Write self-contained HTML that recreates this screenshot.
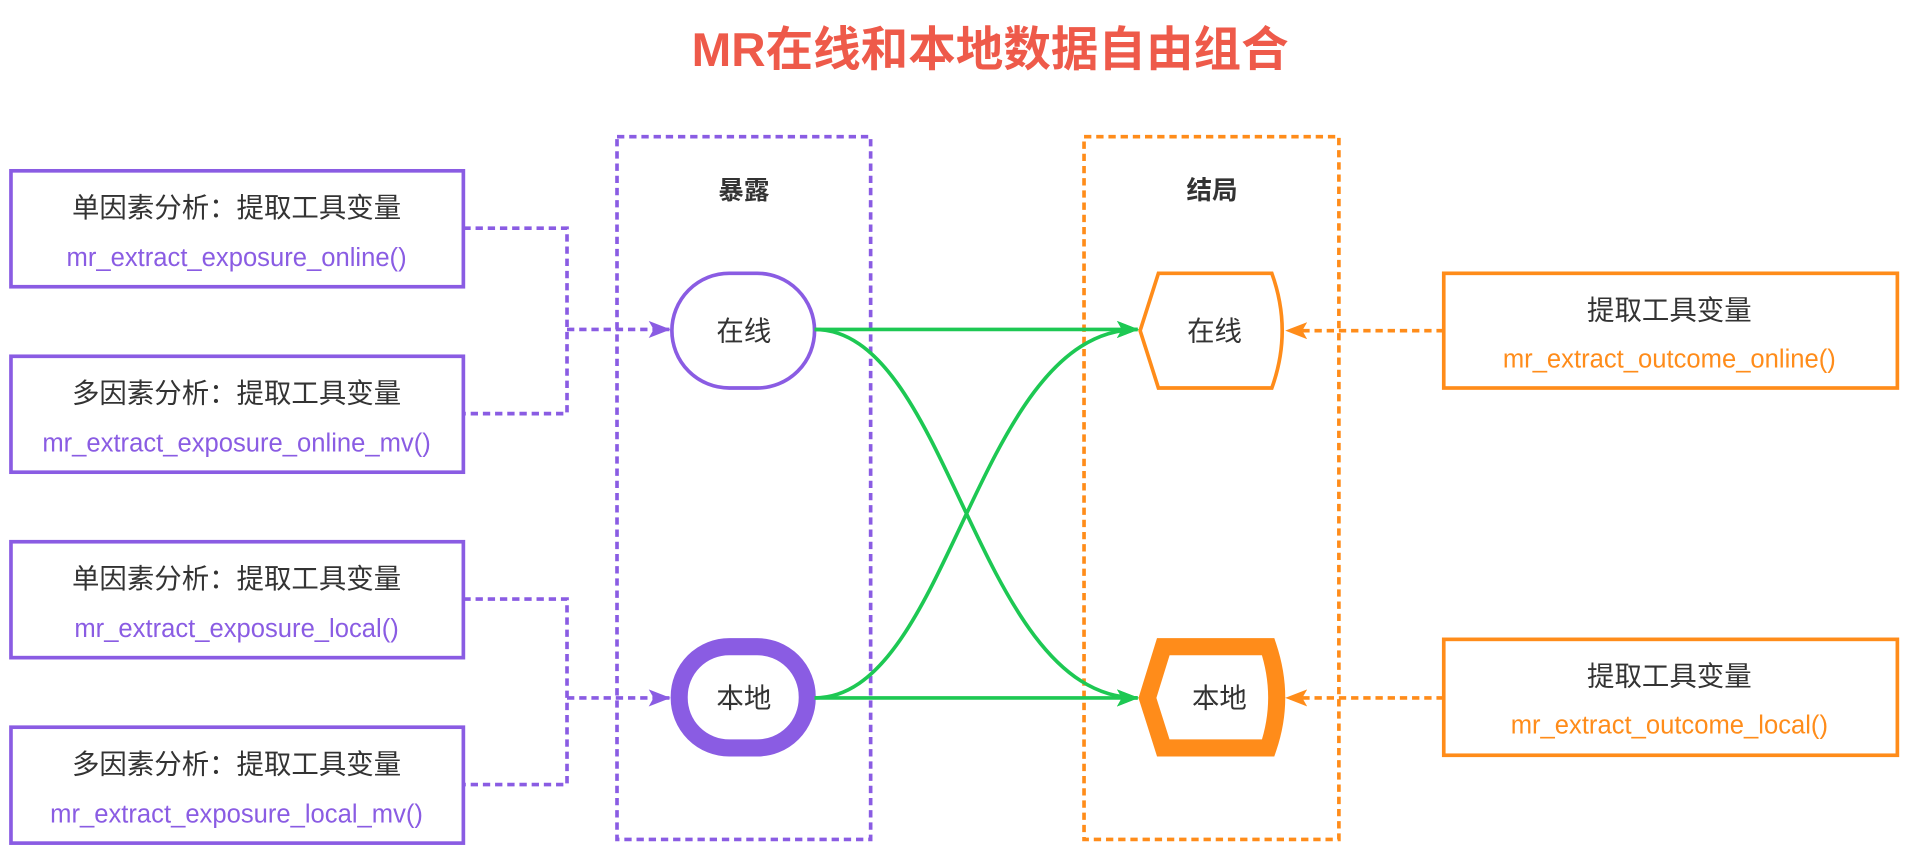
<!DOCTYPE html>
<html><head><meta charset="utf-8"><style>
html,body{margin:0;padding:0;background:#fff;width:1912px;height:848px;overflow:hidden}
svg{display:block}
text{font-family:"Liberation Sans","Noto Sans CJK SC",sans-serif}
</style></head><body>
<svg width="1912" height="848" viewBox="0 0 1568 695" preserveAspectRatio="none" xmlns="http://www.w3.org/2000/svg">
<defs>
<marker id="ap" markerWidth="18" markerHeight="14" refX="17" refY="7" orient="auto" markerUnits="userSpaceOnUse" viewBox="0 0 18 14"><path d="M0,0 L18,7 L0,14 L4,7 Z" fill="#8A5CE3"/></marker>
<marker id="ag" markerWidth="18" markerHeight="14" refX="17" refY="7" orient="auto" markerUnits="userSpaceOnUse" viewBox="0 0 18 14"><path d="M0,0 L18,7 L0,14 L4,7 Z" fill="#1DC853"/></marker>
<marker id="ao" markerWidth="18" markerHeight="14" refX="17" refY="7" orient="auto" markerUnits="userSpaceOnUse" viewBox="0 0 18 14"><path d="M0,0 L18,7 L0,14 L4,7 Z" fill="#FF8C1A"/></marker>
</defs>
<text x="812" y="54" text-anchor="middle" font-size="39" font-weight="bold" fill="#EE5A4A">MR在线和本地数据自由组合</text>

<g fill="#fff" stroke="#8A5CE3" stroke-width="3">
<rect x="9" y="140" width="371" height="95"/>
<rect x="9" y="292" width="371" height="95"/>
<rect x="9" y="444" width="371" height="95"/>
<rect x="9" y="596" width="371" height="95"/>
</g>
<g fill="#fff" stroke="#FF8C1A" stroke-width="3">
<rect x="1184" y="224" width="372" height="94"/>
<rect x="1184" y="524" width="372" height="95"/>
</g>
<g font-size="22.5" fill="#333" text-anchor="middle">
<text x="194" y="178">单因素分析：提取工具变量</text>
<text x="194" y="330">多因素分析：提取工具变量</text>
<text x="194" y="482">单因素分析：提取工具变量</text>
<text x="194" y="634">多因素分析：提取工具变量</text>
<text x="1369" y="262">提取工具变量</text>
<text x="1369" y="562">提取工具变量</text>
</g>
<g font-size="21" fill="#8A5CE3" text-anchor="middle">
<text x="194" y="218">mr_extract_exposure_online()</text>
<text x="194" y="370">mr_extract_exposure_online_mv()</text>
<text x="194" y="522">mr_extract_exposure_local()</text>
<text x="194" y="674">mr_extract_exposure_local_mv()</text>
</g>
<g font-size="21" fill="#FF8C1A" text-anchor="middle">
<text x="1369" y="301">mr_extract_outcome_online()</text>
<text x="1369" y="601">mr_extract_outcome_local()</text>
</g>

<g fill="none" stroke="#8A5CE3" stroke-width="3" stroke-dasharray="6,4">
<path d="M380,187 H465 V339 H380"/>
<path d="M465,270 H549" marker-end="url(#ap)"/>
<path d="M380,491 H465 V643 H380"/>
<path d="M465,572 H549" marker-end="url(#ap)"/>
<rect x="506" y="112" width="208" height="576"/>
</g>
<g fill="none" stroke="#FF8C1A" stroke-width="3" stroke-dasharray="6,4">
<rect x="889" y="112" width="209" height="576"/>
<path d="M1184,271 H1055" marker-end="url(#ao)"/>
<path d="M1184,572 H1055" marker-end="url(#ao)"/>
</g>
<text x="610" y="163" text-anchor="middle" font-size="21" font-weight="bold" fill="#333">暴露</text>
<text x="994" y="163" text-anchor="middle" font-size="21" font-weight="bold" fill="#333">结局</text>

<rect x="551" y="224" width="117" height="94" rx="47" fill="#fff" stroke="#8A5CE3" stroke-width="3"/>
<rect x="557" y="530" width="105" height="83" rx="41" fill="#fff" stroke="#8A5CE3" stroke-width="14"/>
<text x="610" y="279" text-anchor="middle" font-size="22.5" fill="#333">在线</text>
<text x="610" y="580" text-anchor="middle" font-size="22.5" fill="#333">本地</text>

<path d="M950,224 L1043,224 Q1060,271 1043,318 L950,318 L935,271 Z" fill="#fff" stroke="#FF8C1A" stroke-width="3"/>
<path d="M954,530 L1040,530 Q1054,572 1040,613 L954,613 L941,572 Z" fill="#fff" stroke="#FF8C1A" stroke-width="14"/>
<text x="996" y="279" text-anchor="middle" font-size="22.5" fill="#333">在线</text>
<text x="1000" y="580" text-anchor="middle" font-size="22.5" fill="#333">本地</text>

<g fill="none" stroke="#1DC853" stroke-width="3">
<path d="M668,270 H933" marker-end="url(#ag)"/>
<path d="M668,572 H933" marker-end="url(#ag)"/>
<path d="M668,270 C780,270 800,572 933,572" marker-end="url(#ag)"/>
<path d="M668,572 C780,572 800,270 933,270" marker-end="url(#ag)"/>
</g>
</svg>
</body></html>
